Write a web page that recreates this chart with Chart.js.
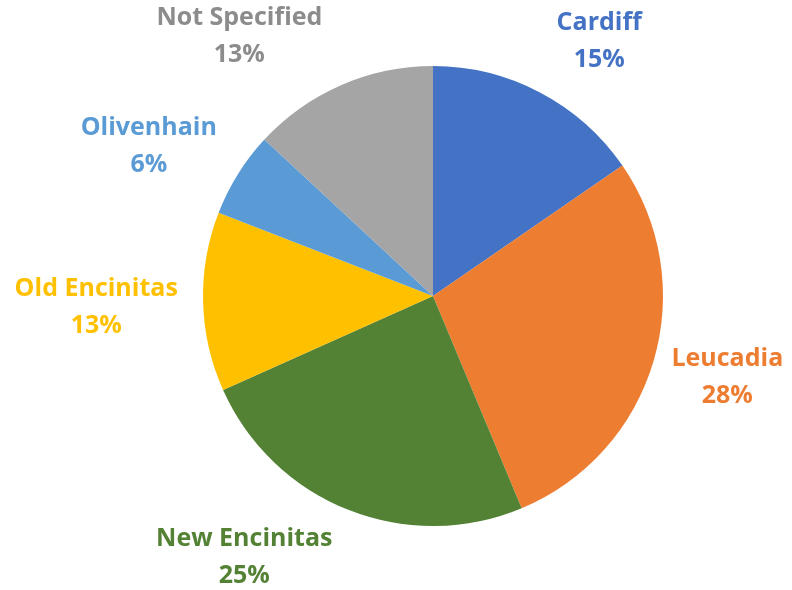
<!DOCTYPE html>
<html>
<head>
<meta charset="utf-8">
<script src="https://cdn.jsdelivr.net/npm/chart.js@4"></script>
<style>
  html, body { margin: 0; padding: 0; background: #ffffff; }
  #wrap { width: 792px; height: 590px; position: relative; }
</style>
</head>
<body>
<div id="wrap"><canvas id="c" width="792" height="590"></canvas></div>
<script>
// ---- data ----
const categories = ["Cardiff", "Leucadia", "New Encinitas", "Old Encinitas", "Olivenhain", "Not Specified"];
const shares = [15.4, 28.3, 24.6, 12.6, 6.0, 13.1];
const sliceColors = ["#4472C4", "#ED7D31", "#548235", "#FFC000", "#5B9BD5", "#A5A5A5"];
const labelColors = ["#4472C4", "#ED7D31", "#548235", "#FFC000", "#5B9BD5", "#8C8C8C"];

// ---- label layout (angle nudge in degrees, distance as multiple of radius) ----
const labelAngleNudge = [5.3, -1.2, 14.4, -0.3, -4, -13];
const labelDistance = [1.326, 1.326, 1.396, 1.465, 1.40, 1.413];

const total = shares.reduce((a, b) => a + b, 0);

const outsideLabels = {
  id: 'outsideLabels',
  afterDatasetsDraw(chart) {
    const ctx = chart.ctx;
    const meta = chart.getDatasetMeta(0);
    ctx.save();
    ctx.font = 'bold 25px "Open Sans"';
    ctx.textAlign = 'center';
    ctx.textBaseline = 'middle';
    meta.data.forEach((arc, i) => {
      const mid = (arc.startAngle + arc.endAngle) / 2 + labelAngleNudge[i] * Math.PI / 180;
      const d = arc.outerRadius * labelDistance[i];
      const x = arc.x + Math.cos(mid) * d;
      const y = arc.y + Math.sin(mid) * d;
      ctx.fillStyle = labelColors[i];
      ctx.fillText(categories[i], x, y - 17);
      ctx.fillText(Math.round(shares[i] / total * 100) + '%', x, y + 20);
    });
    ctx.restore();
  }
};

new Chart(document.getElementById('c'), {
  type: 'pie',
  data: {
    labels: categories,
    datasets: [{
      data: shares,
      backgroundColor: sliceColors,
      borderWidth: 0
    }]
  },
  options: {
    responsive: false,
    animation: false,
    layout: { padding: { top: 66, bottom: 64, left: 203, right: 129 } },
    plugins: {
      legend: { display: false },
      tooltip: { enabled: false }
    }
  },
  plugins: [outsideLabels]
});
</script>
</body>
</html>
